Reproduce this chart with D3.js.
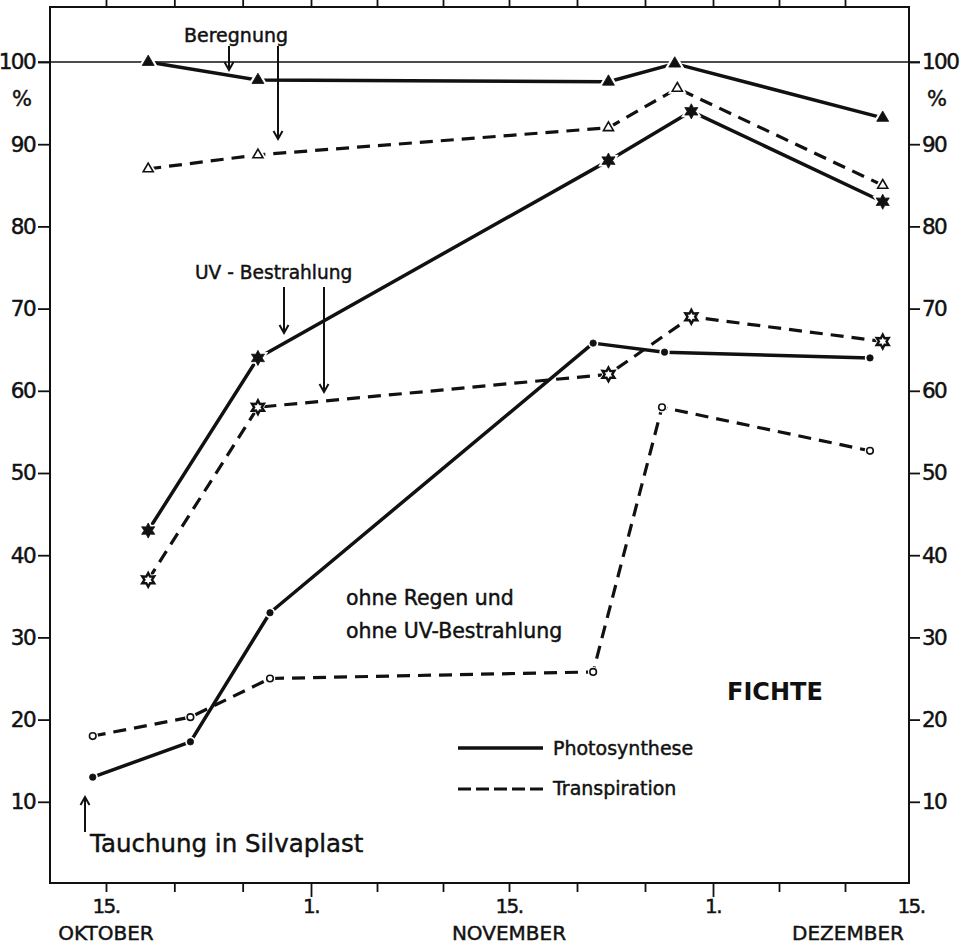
<!DOCTYPE html>
<html>
<head>
<meta charset="utf-8">
<script src="https://cdn.jsdelivr.net/npm/d3@7"></script>
<style>
  body { margin: 0; background: #fff; }
  text { font-family: "DejaVu Sans", sans-serif; fill: #111; stroke: #111; stroke-width: 0.45px; }
</style>
</head>
<body>
<svg id="chart" width="966" height="945"></svg>
<script>
// Day numbers counted from 1 October (1 = 1 Oct, 32 = 1 Nov, 62 = 1 Dec)
const monthTicks = [15, 32, 46, 62, 76];
const dayLabels = ["15.", "1.", "15.", "1.", "15."];
const monthNames = ["OKTOBER", "NOVEMBER", "DEZEMBER"];
const yTicks = [10, 20, 30, 40, 50, 60, 70, 80, 90, 100];

// Beregnung (rain treatment)
const beregDays = [18.5, 27.6, 53.8, 59.0, 74.0];
const photoBereg = [100, 97.8, 97.6, 99.8, 93.2];
const transBeregDays = [18.5, 27.6, 53.8, 59.2, 74.0];
const transBereg = [87, 88.7, 92, 96.8, 85];

// UV-Bestrahlung
const uvDays = [18.5, 27.6, 53.8, 60.3, 74.0];
const photoUV = [43, 64, 88, 94, 83];
const transUV = [37, 58, 62, 69, 66];

// ohne Regen und ohne UV-Bestrahlung
const photoCtrlDays = [13.9, 22.0, 28.6, 52.6, 58.2, 73.1];
const photoCtrl = [13, 17.3, 33, 65.8, 64.7, 64];
const transCtrlDays = [13.9, 22.0, 28.6, 52.6, 58.0, 73.1];
const transCtrl = [18, 20.3, 25, 25.8, 58, 52.7];

const svg = d3.select("#chart");
const L = 50, R = 909, T = 7, B = 883;

const x = d3.scaleLinear().domain(monthTicks).range([106, 311, 509, 713, 911]);
const y = d3.scaleLinear().domain([0, 100]).range([884, 62]);

// minor ticks: thirds of every half-month step
const minorTicks = [];
for (let i = 0; i < monthTicks.length - 1; i++) {
  const a = monthTicks[i], b = monthTicks[i + 1];
  minorTicks.push(a + (b - a) / 3, a + 2 * (b - a) / 3);
}
const topTicks = monthTicks.slice(0, 4).concat(minorTicks);

// frame
svg.append("rect").attr("x", L).attr("y", T).attr("width", R - L).attr("height", B - T)
  .attr("fill", "none").attr("stroke", "#111").attr("stroke-width", 2);

// 100 % reference line
svg.append("line").attr("x1", 38).attr("x2", 920).attr("y1", y(100)).attr("y2", y(100))
  .attr("stroke", "#111").attr("stroke-width", 1.6);

function styleAxis(g) {
  g.select(".domain").remove();
  g.selectAll(".tick line").attr("stroke", "#111").attr("stroke-width", 1.8);
  g.selectAll(".tick text").attr("font-size", 21.5).attr("fill", "#111")
    .attr("font-family", "DejaVu Sans, sans-serif").attr("letter-spacing", -1.6);
}

// left axis
svg.append("g").attr("transform", `translate(${L},0)`)
  .call(d3.axisLeft(y).tickValues(yTicks).tickSize(12).tickPadding(3).tickFormat(d3.format("d")))
  .call(styleAxis);

// right axis
svg.append("g").attr("transform", `translate(${R},0)`)
  .call(d3.axisRight(y).tickValues(yTicks).tickSize(11).tickPadding(2).tickFormat(d3.format("d")))
  .call(styleAxis);

// percent signs
svg.append("text").attr("x", 22).attr("y", 106).attr("text-anchor", "middle")
  .attr("font-size", 21).text("%");
svg.append("text").attr("x", 937).attr("y", 106).attr("text-anchor", "middle")
  .attr("font-size", 21).text("%");

// top ticks
const gt = svg.append("g").attr("transform", `translate(0,${T})`)
  .call(d3.axisTop(x).tickValues(topTicks).tickSize(7).tickFormat(""));
gt.select(".domain").remove();
gt.selectAll(".tick line").attr("stroke", "#111").attr("stroke-width", 1.8);

// bottom axis
const gb = svg.append("g").attr("transform", `translate(0,${B})`)
  .call(d3.axisBottom(x).tickValues(monthTicks.concat(minorTicks)).tickSize(9).tickFormat(""));
gb.select(".domain").remove();
gb.selectAll(".tick line").attr("stroke", "#111").attr("stroke-width", 1.8)
  .attr("y2", d => (d === 32 || d === 62) ? 14 : (d === 76 ? 0 : 9));

svg.append("g").selectAll("text").data(monthTicks).join("text")
  .attr("x", d => x(d)).attr("y", 913).attr("text-anchor", "middle")
  .attr("font-size", 20).attr("letter-spacing", -1.6)
  .text((d, i) => dayLabels[i]);

svg.append("g").selectAll("text").data(monthNames).join("text")
  .attr("x", (d, i) => [x(15), x(46), 848][i]).attr("y", 940).attr("text-anchor", "middle")
  .attr("font-size", 20)
  .text(d => d);

// custom six-pointed star symbol
const star6 = {
  draw(ctx, size) {
    const ro = Math.sqrt(size) / 2, ri = ro * 0.55;
    for (let i = 0; i < 12; i++) {
      const a = -Math.PI / 2 + i * Math.PI / 6, r = i % 2 ? ri : ro;
      const px = r * Math.cos(a), py = r * Math.sin(a);
      if (i === 0) ctx.moveTo(px, py); else ctx.lineTo(px, py);
    }
    ctx.closePath();
  }
};

const line = d3.line().x(d => x(d[0])).y(d => y(d[1]));

function series(days, vals, opts) {
  const pts = days.map((d, i) => [d, vals[i]]);
  svg.append("path").datum(pts).attr("d", line).attr("fill", "none")
    .attr("stroke", "#111").attr("stroke-width", opts.dashed ? 3.2 : 3.5)
    .attr("stroke-dasharray", opts.dashed ? "13,8" : null)
    .attr("stroke-linejoin", "round");
  const sym = d3.symbol().type(opts.type).size(opts.size);
  const g = svg.append("g");
  // white halo so the line stops short of the marker
  g.selectAll("path.halo").data(pts).join("path").attr("class", "halo")
    .attr("transform", d => `translate(${x(d[0])},${y(d[1])})`)
    .attr("d", sym).attr("fill", "#fff").attr("stroke", "#fff").attr("stroke-width", opts.halo);
  g.selectAll("path.mark").data(pts).join("path").attr("class", "mark")
    .attr("transform", d => `translate(${x(d[0])},${y(d[1])})`)
    .attr("d", sym)
    .attr("fill", opts.filled ? "#111" : "#fff")
    .attr("stroke", "#111").attr("stroke-width", opts.filled ? 0.8 : opts.sw);
}

series(beregDays, photoBereg, { type: d3.symbolTriangle, size: 62, filled: true, halo: 5 });
series(transBeregDays, transBereg, { dashed: true, type: d3.symbolTriangle, size: 44, filled: false, sw: 1.6, halo: 5 });
series(uvDays, photoUV, { type: star6, size: 230, filled: true, halo: 4 });
series(uvDays, transUV, { dashed: true, type: star6, size: 190, filled: false, sw: 2.4, halo: 4 });
series(photoCtrlDays, photoCtrl, { type: d3.symbolCircle, size: 32, filled: true, halo: 4 });
series(transCtrlDays, transCtrl, { dashed: true, type: d3.symbolCircle, size: 34, filled: false, sw: 1.6, halo: 4 });

// annotation arrows
function arrow(x0, y0, y1) {
  const dir = y1 > y0 ? 1 : -1;
  svg.append("path")
    .attr("d", `M${x0},${y0}L${x0},${y1}M${x0 - 4.5},${y1 - dir * 8}L${x0},${y1}L${x0 + 4.5},${y1 - dir * 8}`)
    .attr("fill", "none").attr("stroke", "#111").attr("stroke-width", 2);
}

svg.append("text").attr("x", 184).attr("y", 42).attr("font-size", 19).text("Beregnung");
arrow(229, 46, 70);
arrow(278, 46, 139);

svg.append("text").attr("x", 195).attr("y", 279).attr("font-size", 18.6).text("UV - Bestrahlung");
arrow(284, 287, 333);
arrow(324, 287, 392);

svg.append("text").attr("x", 346).attr("y", 605).attr("font-size", 20.5).text("ohne Regen und");
svg.append("text").attr("x", 346).attr("y", 638).attr("font-size", 20.5).text("ohne UV-Bestrahlung");

svg.append("text").attr("x", 727).attr("y", 700).attr("font-size", 24).attr("font-weight", "bold")
  .style("stroke-width", "0px").text("FICHTE");

// legend
svg.append("line").attr("x1", 458).attr("x2", 543).attr("y1", 748).attr("y2", 748)
  .attr("stroke", "#111").attr("stroke-width", 3.5);
svg.append("text").attr("x", 553).attr("y", 755).attr("font-size", 19).text("Photosynthese");
svg.append("line").attr("x1", 458).attr("x2", 543).attr("y1", 789).attr("y2", 789)
  .attr("stroke", "#111").attr("stroke-width", 3.2).attr("stroke-dasharray", "13,5");
svg.append("text").attr("x", 553).attr("y", 795).attr("font-size", 19).text("Transpiration");

// treatment start
arrow(85, 832, 797);
svg.append("text").attr("x", 90).attr("y", 852).attr("font-size", 24.5).text("Tauchung in Silvaplast");
</script>
</body>
</html>
